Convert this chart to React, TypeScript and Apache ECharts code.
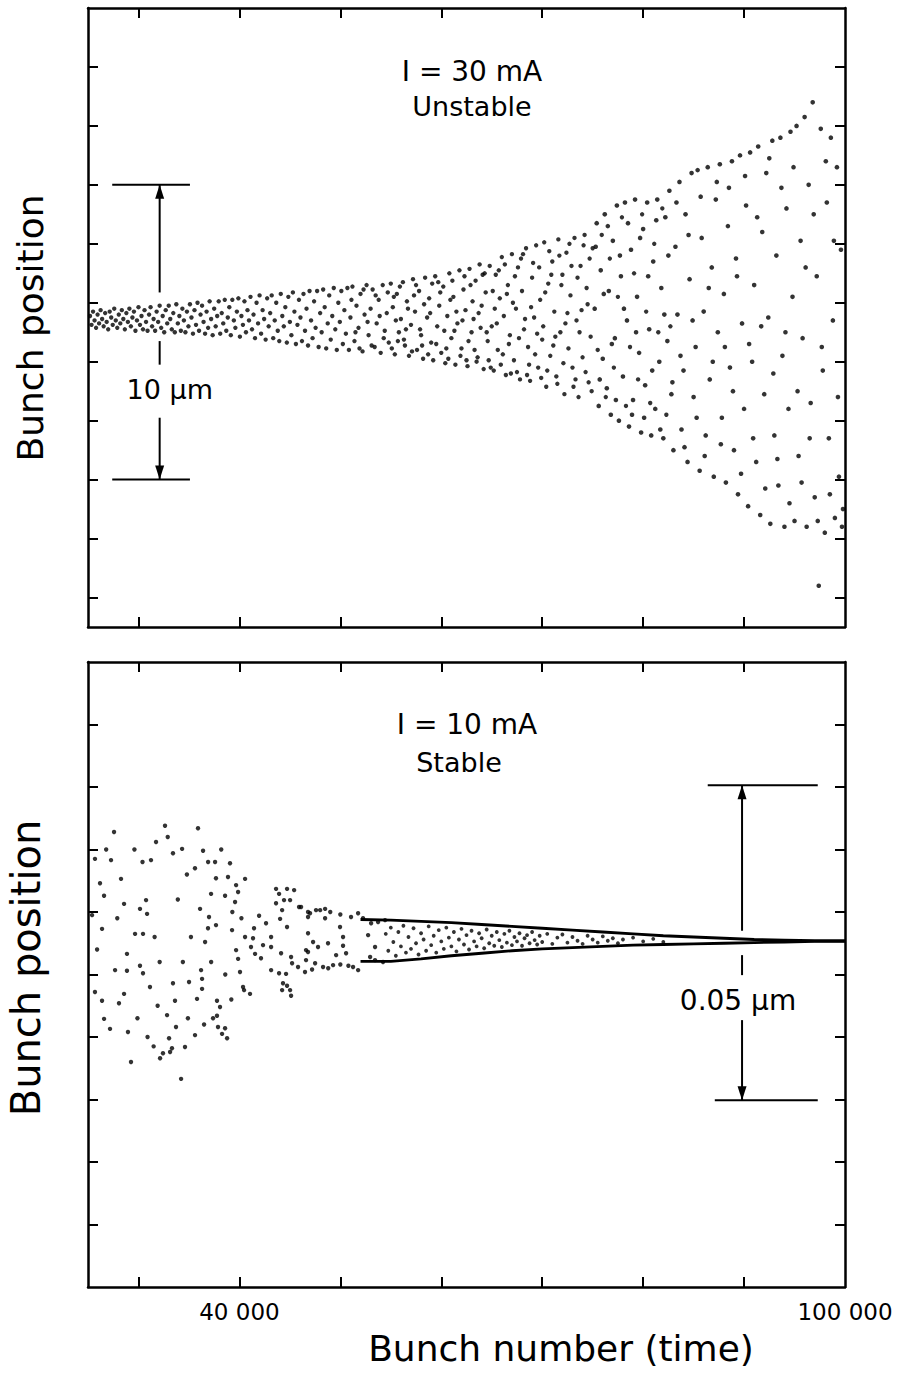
import React, { useEffect, useRef } from "react";
import * as echarts from "echarts";

// ---------- axes ----------
const X_MIN = 25000;
const X_MAX = 100000;
const xTickValues = [30000, 40000, 50000, 60000, 70000, 80000, 90000];
const xLabelValues = [40000, 100000];
const topYMin = -11;
const topYMax = 10;
const topYTicks = [-10, -8, -6, -4, -2, 0, 2, 4, 6, 8];
const bottomYMin = 0;
const bottomYMax = 0.1;
const bottomYTicks = [0.01, 0.02, 0.03, 0.04, 0.05, 0.06, 0.07, 0.08, 0.09];

// ---------- top panel (I = 30 mA, unstable): [bunch number, position µm] ----------
const topEarly: [number, number][] = [
  [25200, -0.45], [25350, -0.75], [25500, -0.3], [25650, -0.6], [25800, -0.85], [25950, -0.4], [26100, -0.7], [26250, -0.25], [26400, -0.55], [26550, -0.8], [26700, -0.35], [26850, -0.65],
  [27000, -0.9], [27150, -0.3], [27300, -0.5], [27450, -0.75], [27600, -0.2], [27750, -0.6], [27900, -0.85], [28050, -0.4], [28200, -0.7], [28350, -0.25], [28500, -0.55], [28650, -0.9], [28800, -0.35], [28950, -0.65],
  [29100, -0.2], [29250, -0.8], [29400, -0.5], [29550, -0.3], [29700, -0.95], [29850, -0.6], [30000, -0.15], [30150, -0.75], [30300, -0.45], [30450, -0.9], [30600, -0.25], [30750, -0.65], [30900, -0.95],
  [31050, -0.4], [31200, -0.15], [31350, -0.8], [31500, -0.55], [31650, -0.95], [31800, -0.3], [31950, -0.65], [32100, -0.1], [32250, -0.85], [32400, -0.45], [32550, -1.0], [32700, -0.25], [32850, -0.7],
  [33000, -0.1], [33150, -0.55], [33300, -0.9], [33450, -0.35], [33600, -1.0], [33750, -0.05], [33900, -0.7], [34050, -0.45], [34200, -0.95], [34350, -0.2], [34500, -0.6], [34650, -1.0], [34800, -0.3], [34950, -0.8],
  [35100, -0.05], [35250, -0.5], [35400, -1.05], [35550, -0.25], [35700, -0.75], [35850, 0.0], [36000, -0.95], [36150, -0.4], [36300, -0.1], [36450, -0.65], [36600, -1.05], [36750, -0.3], [36900, -0.85],
  [37050, 0.05], [37200, -0.55], [37350, -1.1], [37500, -0.2], [37650, -0.8], [37800, -0.45], [37950, 0.05], [38100, -1.05], [38250, -0.35], [38400, -0.7], [38550, 0.1], [38700, -0.95], [38850, -0.5],
  [39000, -0.15], [39150, -1.1], [39300, 0.1], [39450, -0.6], [39600, -0.85], [39750, -0.3], [39900, 0.15], [40050, -1.15], [40200, -0.45], [40350, -0.75], [40500, 0.05], [40650, -1.0], [40800, -0.25], [40950, -0.6],
  [41100, 0.2], [41250, -0.9], [41400, -0.4], [41550, -1.2], [41700, 0.0], [41850, -0.7], [42000, 0.25], [42150, -1.05], [42300, -0.25], [42450, -0.55], [42600, -1.25], [42750, 0.15], [42900, -0.8],
  [43050, -0.35], [43200, 0.25], [43350, -1.2], [43500, -0.6], [43650, 0.0], [43800, -0.95], [43950, -1.3], [44100, 0.3], [44250, -0.45], [44400, -0.8], [44550, -0.15], [44700, -1.35], [44850, 0.2], [45000, -0.65],
  [45150, -1.1], [45300, 0.35], [45450, -0.3], [45600, -1.4], [45750, -0.75], [45900, 0.1], [46050, -0.5], [46200, -1.3], [46350, 0.3], [46500, -0.95], [46650, -0.2], [46800, -1.45], [46950, 0.4],
  [47100, -0.6], [47250, -1.2], [47400, 0.05], [47550, -0.85], [47700, 0.4], [47850, -1.5], [48000, -0.35], [48150, -1.0], [48300, 0.45], [48450, -0.15], [48600, -1.55], [48750, -0.7], [48900, 0.25],
  [49050, -1.25], [49200, -0.45], [49350, 0.5], [49500, -0.9], [49650, -1.6], [49800, 0.0], [49950, -0.65], [50100, 0.4], [50250, -1.4], [50400, -0.25], [50550, -1.05], [50700, 0.5], [50850, -1.6],
];

const topMiddle: [number, number][] = [
  [51000, -0.5], [51200, 0.55], [51400, -1.3], [51600, -0.1], [51800, -0.85], [52000, 0.3], [52200, -1.65], [52400, -0.4], [52600, 0.6], [52800, -1.1], [53000, -0.2],
  [53200, 0.45], [53400, -1.5], [53600, -0.7], [53800, 0.1], [54000, -1.7], [54200, 0.6], [54400, -0.95], [54600, -0.35], [54800, -1.35], [55000, 0.65],
  [55200, -0.15], [55400, -1.75], [55600, 0.3], [55800, -1.0], [56000, -0.55], [56200, 0.7], [56400, -1.45], [56600, 0.05], [56800, -1.8], [57000, -0.75],
  [57200, 0.8], [57400, -0.3], [57600, -1.6], [57800, 0.4], [58000, -1.1], [58200, -1.9], [58400, 0.85], [58600, -0.5], [58800, 0.15], [59000, -1.35],
  [59200, -1.95], [59400, 0.9], [59600, -0.8], [59800, -0.1], [60000, -1.7], [60200, 0.55], [60400, -2.05], [60600, -0.45], [60800, 1.0], [61000, -1.2],
  [61200, 0.2], [61400, -2.1], [61600, -0.7], [61800, 1.1], [62000, -1.55], [62200, 0.45], [62400, -0.25], [62600, -2.15], [62800, 1.15], [63000, -1.0],
  [63200, -0.55], [63400, 0.75], [63600, -1.85], [63800, 1.3], [64000, -0.1], [64200, -2.25], [64400, 0.35], [64600, -1.3], [64800, 1.25], [65000, -0.8],
  [65200, -2.3], [65400, 0.95], [65600, -1.6], [65800, 0.15], [66000, 1.55], [66200, -0.45], [66400, -2.45], [66600, 0.6], [66800, -1.1], [67000, 1.65],
  [67200, -1.95], [67400, -0.2], [67600, 1.2], [67800, -2.6], [68000, 0.4], [68200, -0.9], [68400, 1.85], [68600, -1.5], [68800, -2.65], [69000, 0.85],
  [69200, -0.5], [69400, 1.95], [69600, -2.2], [69800, 0.1], [70000, -1.25], [70200, 2.05], [70400, -2.85], [70600, 0.65], [70800, -1.8], [71000, 1.4],
  [71200, -0.3], [71400, -2.5], [71600, 2.15], [71800, -1.0], [72000, 0.95], [72200, -3.1], [72400, 1.7], [72600, -1.55], [72800, 0.25], [73000, -2.2],
  [73200, 2.2], [73400, -0.6], [73600, -3.2], [73800, 1.25], [74000, -1.85], [74200, 2.3], [74400, 0.5], [74600, -2.7], [74800, -1.15], [75000, 1.85],
  [51100, 0.1], [51500, -1.0], [51900, -1.55], [52300, 0.45], [52700, -0.65], [53100, -1.45], [53500, 0.25], [53900, -0.45], [54300, -1.2], [54700, 0.35],
  [55100, -1.55], [55500, -0.6], [55900, 0.55], [56300, -1.25], [56700, -0.2], [57100, -1.65], [57500, 0.6], [57900, -0.9], [58300, -0.05], [58700, -1.75],
  [59100, 0.65], [59500, -1.4], [59900, 0.35], [60300, -0.95], [60700, -1.9], [61100, 0.75], [61500, -0.3], [61900, -1.8], [62300, 0.9], [62700, -1.3],
  [63100, 0.05], [63500, -2.0], [63900, -0.85], [64300, 1.0], [64700, -1.95], [65100, 0.4], [65500, -0.7], [65900, -2.1], [66300, 1.3], [66700, -1.4],
  [67100, 0.0], [67500, -2.35], [67900, 1.5], [68300, -0.55], [68700, -2.1], [69100, 1.35], [69500, -1.05], [69900, -2.55], [70300, 0.35], [70700, 1.75],
  [71100, -1.45], [71500, -2.75], [71900, 0.6], [72300, -0.7], [72700, 2.0], [73100, -2.85], [73500, 0.85], [73900, -0.25], [74300, -2.35], [74700, 1.5],
];

const topDense: [number, number][] = [
  [55300, 0.2], [55700, -1.3], [56500, -0.9], [57300, 0.25], [58100, -1.45], [58900, -0.35], [59700, 0.7], [60500, -1.55], [60900, 0.1], [61300, -0.95],
  [62100, -0.6], [62500, -1.95], [62900, 0.6], [63300, -1.6], [63700, -0.35], [64100, 0.95], [64500, -1.0], [64900, -2.2], [65300, -0.2], [65700, 1.1],
  [66100, -1.75], [66500, 0.3], [66900, -2.4], [67300, 0.9], [67700, -1.2], [68100, 1.65], [68500, -2.45], [68900, -0.15], [69300, -1.75], [69700, 1.2],
  [70100, -0.8], [70500, -2.3], [70900, 0.95], [71300, -1.15], [71700, 1.6], [72100, -2.05], [72500, -0.35], [72900, 1.25], [73300, -2.6], [73700, -1.0],
  [74100, 1.95], [74500, -0.05], [74900, -3.0], [75500, -1.6], [75900, 2.3], [76300, -3.2], [76700, 1.5], [77100, -2.2], [77500, 0.2], [77900, 2.9],
  [78300, -3.5], [78700, -1.5], [79100, 1.0], [79500, -2.6], [79900, 3.0], [80300, -0.3], [80700, -3.4], [81100, 2.0], [81500, -1.0], [81900, 3.2],
  [82300, -3.8], [82700, -0.8],
];

const topLate: [number, number][] = [
  [75200, -0.2], [75400, 2.7], [75600, -3.5], [75800, 1.1], [76000, -1.9], [76200, 3.0], [76400, -2.9], [76600, 0.4], [76800, -3.8], [77000, 2.1],
  [77200, -1.2], [77400, 3.3], [77600, -4.0], [77800, 0.9], [78000, -2.5], [78200, 3.4], [78400, -0.6], [78600, -4.2], [78800, 1.8], [79000, -3.3],
  [79200, 3.5], [79400, 0.2], [79600, -1.7], [79800, -4.4], [80000, 2.5], [80200, -2.8], [80400, 3.4], [80600, -0.9], [80800, -4.5], [81000, 1.4],
  [81200, -3.6], [81400, 3.5], [81600, -2.0], [81800, 0.5], [82000, -4.6], [82200, 2.9], [82400, -1.3], [82600, 3.8], [82800, -3.1], [83000, -5.0],
  [83200, 1.9], [83400, -0.4], [83600, 4.1], [83800, -4.3], [84000, -2.3], [84200, 3.0], [84400, -5.4], [84600, 0.8], [84800, 4.4], [85000, -3.2],
  [85200, -1.5], [85400, 4.5], [85600, -5.7], [85800, 2.2], [86000, -0.3], [86200, -4.5], [86400, 4.6], [86600, -2.6], [86800, 1.2], [87000, -5.9],
  [87200, 3.5], [87400, -1.0], [87600, 4.7], [87800, -3.9], [88000, 0.3], [88200, -6.1], [88400, 2.6], [88600, -2.2], [88800, 4.8], [89000, -5.0],
  [89200, 1.5], [89400, -6.5], [89600, 5.0], [89800, -0.7], [90000, -3.6], [90200, 3.3], [90400, -6.9], [90600, 5.1], [90800, -2.0], [91000, 0.6],
  [91200, -5.4], [91400, 5.3], [91600, -7.2], [91800, 2.4], [92000, -3.1], [92200, 4.4], [92400, -0.5], [92600, -7.5], [92800, 5.5], [93000, -4.5],
  [93200, 1.6], [93400, -6.2], [93600, 5.6], [93800, -1.8], [94000, -7.6], [94200, 3.2], [94400, -3.6], [94600, 5.8], [94800, 0.2], [95000, -7.4],
  [95200, 6.0], [95400, -5.2], [95600, 2.1], [95800, -1.2], [96000, 6.3], [96200, -7.6], [96400, 4.0], [96600, -3.4], [96800, 6.8], [97000, -6.6],
  [97200, 0.9], [97400, -9.6], [97600, 5.9], [97800, -2.3], [98000, -7.8], [98200, 3.4], [98400, -4.6], [98600, 5.6], [98800, -0.6], [99000, -7.3],
  [99200, 4.6], [99400, -5.9], [99600, 1.8], [99800, -7.0],
  [75300, 1.9], [75700, -2.6], [76100, 0.3], [76500, 2.6], [76900, -1.4], [77300, -3.3], [77700, 1.6], [78100, -0.2], [78500, 2.7], [78900, -3.8],
  [79300, -1.0], [79700, 2.2], [80100, -3.9], [80500, 0.9], [80900, -2.3], [81300, 2.8], [81700, -4.3], [82100, -0.4], [82500, 1.6], [82900, -2.7],
  [83300, 3.4], [83700, -1.8], [84100, -4.9], [84500, 2.3], [84900, -0.6], [85300, -3.9], [85700, 3.6], [86100, -5.2], [86500, 0.5], [86900, -2.0],
  [87300, 4.1], [87700, -4.8], [88100, -1.5], [88500, 3.9], [88900, -3.0], [89300, 0.9], [89700, -5.8], [90100, 4.3], [90500, -1.4], [90900, -4.6],
  [91300, 2.9], [91700, -0.8], [92100, -6.3], [92500, 4.9], [92900, -2.4], [93300, -5.3], [93700, 3.9], [94100, -1.0], [94500, -6.8], [94900, 4.6],
  [95300, -3.0], [95700, -6.1], [96100, 1.2], [96500, -4.6], [96900, 3.0], [97300, -7.4], [97700, -1.5], [98100, 4.8], [98500, -6.5], [98900, 2.1],
  [99300, -3.2], [99700, -7.6],
];

// ---------- bottom panel (I = 10 mA, stable): [bunch number, position µm] ----------
const bottomEarly: [number, number][] = [
  [27580, 0.0728], [25690, 0.0685], [27280, 0.0683], [28270, 0.0653], [26190, 0.0646],
  [26590, 0.0626], [28570, 0.0613], [26390, 0.0573], [28860, 0.0533], [27680, 0.0507],
  [28860, 0.0506], [30150, 0.0514], [30450, 0.0502], [31140, 0.048], [25690, 0.0472],
  [28570, 0.0469], [26390, 0.0458], [28070, 0.0454], [26590, 0.0429], [27180, 0.0413],
  [28960, 0.0408], [29260, 0.036], [32630, 0.0738], [31740, 0.0712], [31240, 0.0683],
  [33420, 0.0694], [34320, 0.0701], [35900, 0.0734], [36400, 0.0698], [35600, 0.067],
  [30750, 0.0619], [30150, 0.0605], [30850, 0.0597], [29660, 0.0565], [30450, 0.0565],
  [36100, 0.0605], [36990, 0.0592], [36600, 0.0552], [33620, 0.0458], [35800, 0.0461],
  [35010, 0.0488], [36300, 0.0493], [33420, 0.0486], [32830, 0.0435], [33720, 0.0416],
  [35600, 0.0403], [33030, 0.0398], [33320, 0.0382], [32430, 0.0374], [33130, 0.0376],
  [32140, 0.0366], [34610, 0.0384], [34220, 0.0333], [37590, 0.068], [39070, 0.0678],
  [38870, 0.0656], [39670, 0.0643], [39870, 0.0632], [40560, 0.0653], [38580, 0.0626],
  [37190, 0.0629], [39570, 0.0616], [37680, 0.0579], [39270, 0.0571], [36890, 0.0574],
  [37680, 0.0654], [39670, 0.0539], [39870, 0.0525], [40060, 0.0504], [40360, 0.048],
  [40460, 0.0475], [41050, 0.0469], [37780, 0.0458], [38080, 0.0448], [37780, 0.0434],
  [37390, 0.043], [37880, 0.0416], [38580, 0.0414], [38280, 0.0405], [38780, 0.0398],
  [36200, 0.0507], [36300, 0.0477],
  [25400, 0.0595], [25900, 0.054], [26800, 0.07], [27900, 0.059], [29600, 0.07], [30400, 0.068],
  [31600, 0.056], [31900, 0.045], [32900, 0.072], [33900, 0.062], [34800, 0.066], [35200, 0.056],
  [34400, 0.052], [32100, 0.052], [29900, 0.043], [30900, 0.04], [31500, 0.0385], [34900, 0.043],
  [36900, 0.068], [38200, 0.07], [39300, 0.06], [40200, 0.059], [37200, 0.052], [38600, 0.05],
  [39200, 0.046], [36500, 0.042],
];

const bottomMiddle: [number, number][] = [
  [43630, 0.0637], [44720, 0.0637], [45420, 0.0635], [43930, 0.0629], [44420, 0.0619],
  [45020, 0.0619], [43630, 0.0614], [44230, 0.0603], [45910, 0.0608], [46800, 0.0592],
  [44030, 0.0589], [44720, 0.0576], [42640, 0.0582], [41450, 0.0574], [41950, 0.0594],
  [43140, 0.056], [41350, 0.0558], [42340, 0.0547], [41550, 0.0533], [42140, 0.0526],
  [43140, 0.0544], [44130, 0.0534], [45120, 0.0528], [46600, 0.0539], [46600, 0.0523],
  [45810, 0.0512], [45220, 0.0518], [43930, 0.0502], [44620, 0.0501], [43140, 0.0507],
  [44320, 0.0486], [44720, 0.0482], [44230, 0.0475], [45020, 0.0475], [45120, 0.0466],
  [41150, 0.0544], [40560, 0.056],
  [46110, 0.0608], [46800, 0.06], [47590, 0.0603], [48490, 0.0605], [48490, 0.059],
  [46800, 0.0566], [47300, 0.0552], [48780, 0.055], [46800, 0.0536], [47790, 0.0544],
  [46500, 0.0504], [47500, 0.0518], [48290, 0.0512], [49280, 0.0515], [49580, 0.0531],
  [50570, 0.0534], [51260, 0.0512], [51760, 0.0507], [49970, 0.0576], [50270, 0.056],
  [51060, 0.0592], [51760, 0.0598], [52250, 0.059], [53050, 0.0582], [53740, 0.0584],
  [54430, 0.0587], [52750, 0.0563], [53440, 0.0544], [52950, 0.0528], [53440, 0.0523],
  [54230, 0.052], [50270, 0.0546], [47000, 0.0598], [48000, 0.0603], [49000, 0.06],
  [50000, 0.0596], [47200, 0.0508], [48800, 0.051], [50000, 0.0516], [50800, 0.0514],
];

const bottomBand: [number, number][] = [
  [54500, 0.0565], [54750, 0.0538], [55000, 0.0575], [55250, 0.0552], [55500, 0.053], [55750, 0.0568], [56000, 0.0545], [56250, 0.0578],
  [56500, 0.0535], [56750, 0.056], [57000, 0.0541], [57250, 0.0574], [57500, 0.055], [57750, 0.0532], [58000, 0.0566], [58250, 0.0556],
  [58500, 0.0538], [58750, 0.0577], [59000, 0.0547], [59250, 0.0562], [59500, 0.0535], [59750, 0.0571], [60000, 0.0553], [60250, 0.0541],
  [60500, 0.0575], [60750, 0.0559], [61000, 0.0545], [61250, 0.0568], [61500, 0.0537], [61750, 0.0556], [62000, 0.0573], [62250, 0.0548],
  [62500, 0.0563], [62750, 0.054], [63000, 0.057], [63250, 0.0553], [63500, 0.0545], [63750, 0.0566], [64000, 0.0558], [64250, 0.0542],
  [64500, 0.0572], [64750, 0.055], [65000, 0.0562], [65250, 0.0546], [65500, 0.0568], [65750, 0.0555], [66000, 0.0544], [66250, 0.0565],
  [66500, 0.0551], [66750, 0.057], [67000, 0.0547], [67250, 0.056], [67500, 0.0553], [67750, 0.0566], [68000, 0.0546], [68250, 0.0558],
  [68500, 0.0563], [68750, 0.055], [69000, 0.0568], [69250, 0.0555], [69500, 0.0548], [69750, 0.0562], [70000, 0.0552], [70500, 0.0565],
  [71000, 0.0549], [71500, 0.0559], [72000, 0.0564], [72500, 0.0551], [73000, 0.056], [73500, 0.0554], [74000, 0.0549], [74500, 0.0562],
  [75000, 0.0556], [75500, 0.0551], [76000, 0.0561], [76500, 0.0554], [77000, 0.0558], [77500, 0.055], [78000, 0.0556], [79000, 0.0559],
  [80000, 0.0553], [81000, 0.0557], [82000, 0.0552],
];

const bottomEdgeX = [52000, 55000, 58000, 61000, 64000, 67000, 70000, 73000, 76000, 79000, 82000, 85000, 88000, 91000, 94000, 97000, 100000];
const bottomUpper = [0.0588, 0.0587, 0.0585, 0.0583, 0.058, 0.0577, 0.0574, 0.0571, 0.0568, 0.0565, 0.0562, 0.056, 0.0558, 0.0556, 0.0555, 0.0554, 0.0554];
const bottomLower = [0.0521, 0.0521, 0.0525, 0.053, 0.0534, 0.0538, 0.0541, 0.0543, 0.0545, 0.0547, 0.0548, 0.0549, 0.055, 0.0551, 0.0552, 0.0553, 0.0553];

// ---------- scale markers ----------
const topMarker = { x1: 27400, x2: 35100, xArrow: 32100, yHigh: 4, yLow: -6, label: "10 µm", labelX: 33100, labelY: -2.95 };
const topMarkerSegments = [[4, 0.35], [-1.3, -2.1], [-3.9, -6]];
const bottomMarker = { x1High: 86400, x1Low: 87100, x2: 97300, xArrow: 89800, yHigh: 0.0803, yLow: 0.0299, label: "0.05 µm", labelX: 89400, labelY: 0.0458 };
const bottomMarkerSegments = [[0.0803, 0.057], [0.0531, 0.0499], [0.0427, 0.0299]];

const FONT = '"DejaVu Sans", "Liberation Sans", Arial, sans-serif';

const fmtThousands = (v: number) => String(Math.round(v)).replace(/\B(?=(\d{3})+(?!\d))/g, " ");

function xAxisCfg(gridIndex: number, position: string, labels: boolean) {
  return {
    type: "value",
    gridIndex,
    position,
    min: X_MIN,
    max: X_MAX,
    axisLine: { show: true, onZero: false, lineStyle: { color: "#000", width: 2.5 } },
    axisTick: { show: true, inside: true, length: 10, customValues: xTickValues, lineStyle: { color: "#000", width: 2 } },
    axisLabel: labels
      ? { show: true, customValues: xLabelValues, formatter: fmtThousands, color: "#000", fontSize: 23, fontFamily: FONT, margin: 13 }
      : { show: false },
    splitLine: { show: false },
  };
}

function yAxisCfg(gridIndex: number, position: string, min: number, max: number, ticks: number[]) {
  return {
    type: "value",
    gridIndex,
    position,
    min,
    max,
    axisLine: { show: true, onZero: false, lineStyle: { color: "#000", width: 2.5 } },
    axisTick: { show: true, inside: true, length: 10, customValues: ticks, lineStyle: { color: "#000", width: 2 } },
    axisLabel: { show: false },
    splitLine: { show: false },
  };
}

export default function App() {
  const ref = useRef<HTMLDivElement>(null);

  useEffect(() => {
    if (!ref.current) return;
    const chart = echarts.init(ref.current, null, { renderer: "svg" });
    const dots = (xi: number, yi: number, data: [number, number][], size: number) => ({
      type: "scatter",
      xAxisIndex: xi,
      yAxisIndex: yi,
      symbol: "circle",
      symbolSize: size,
      itemStyle: { color: "#000" },
      data,
      silent: true,
    });
    const option: any = {
      animation: false,
      backgroundColor: "#fff",
      grid: [
        { left: 88, top: 8, width: 757, height: 619 },
        { left: 88, top: 662, width: 757, height: 625 },
      ],
      xAxis: [
        xAxisCfg(0, "bottom", false),
        xAxisCfg(0, "top", false),
        xAxisCfg(1, "bottom", true),
        xAxisCfg(1, "top", false),
      ],
      yAxis: [
        yAxisCfg(0, "left", topYMin, topYMax, topYTicks),
        yAxisCfg(0, "right", topYMin, topYMax, topYTicks),
        yAxisCfg(1, "left", bottomYMin, bottomYMax, bottomYTicks),
        yAxisCfg(1, "right", bottomYMin, bottomYMax, bottomYTicks),
      ],
      series: [
        dots(0, 0, topEarly, 4.4),
        dots(0, 0, topMiddle, 4.4),
        dots(0, 0, topDense, 4.4),
        dots(0, 0, topLate, 4.6),
        dots(2, 2, bottomEarly, 4.4),
        dots(2, 2, bottomMiddle, 4.4),
        dots(2, 2, bottomBand, 3.8),
        {
          type: "line",
          xAxisIndex: 2,
          yAxisIndex: 2,
          showSymbol: false,
          lineStyle: { color: "#000", width: 2.8 },
          data: bottomEdgeX.map((x, i) => [x, bottomUpper[i]]),
          silent: true,
        },
        {
          type: "line",
          xAxisIndex: 2,
          yAxisIndex: 2,
          showSymbol: false,
          lineStyle: { color: "#000", width: 2.8 },
          data: bottomEdgeX.map((x, i) => [x, bottomLower[i]]),
          silent: true,
        },
      ],
    };
    chart.setOption(option);

    const P = (panel: number, x: number, y: number) =>
      chart.convertToPixel(panel === 0 ? { xAxisIndex: 0, yAxisIndex: 0 } : { xAxisIndex: 2, yAxisIndex: 2 }, [x, y]) as number[];

    const lineEl = (a: number[], b: number[], w = 2) => ({
      type: "line",
      shape: { x1: a[0], y1: a[1], x2: b[0], y2: b[1] },
      style: { stroke: "#000", lineWidth: w },
      silent: true,
    });
    const arrowHead = (tip: number[], dir: number) => ({
      type: "polygon",
      shape: { points: [tip, [tip[0] - 4.5, tip[1] + dir * 14], [tip[0] + 4.5, tip[1] + dir * 14]] },
      style: { fill: "#000" },
      silent: true,
    });
    const textEl = (x: number, y: number, text: string, size: number, rotation = 0) => ({
      type: "text",
      x,
      y,
      rotation,
      silent: true,
      style: {
        text,
        fill: "#000",
        font: `${size}px ${FONT}`,
        align: "center",
        verticalAlign: "middle",
        textAlign: "center",
        textVerticalAlign: "middle",
      },
    });

    const els: any[] = [];
    const tm = topMarker;
    els.push(lineEl(P(0, tm.x1, tm.yHigh), P(0, tm.x2, tm.yHigh)));
    els.push(lineEl(P(0, tm.x1, tm.yLow), P(0, tm.x2, tm.yLow)));
    topMarkerSegments.forEach(([a, b]) => els.push(lineEl(P(0, tm.xArrow, a), P(0, tm.xArrow, b))));
    els.push(arrowHead(P(0, tm.xArrow, tm.yHigh), 1));
    els.push(arrowHead(P(0, tm.xArrow, tm.yLow), -1));
    const tl = P(0, tm.labelX, tm.labelY);
    els.push(textEl(tl[0], tl[1], tm.label, 27));

    const bm = bottomMarker;
    els.push(lineEl(P(1, bm.x1High, bm.yHigh), P(1, bm.x2, bm.yHigh)));
    els.push(lineEl(P(1, bm.x1Low, bm.yLow), P(1, bm.x2, bm.yLow)));
    bottomMarkerSegments.forEach(([a, b]) => els.push(lineEl(P(1, bm.xArrow, a), P(1, bm.xArrow, b))));
    els.push(arrowHead(P(1, bm.xArrow, bm.yHigh), 1));
    els.push(arrowHead(P(1, bm.xArrow, bm.yLow), -1));
    const bl = P(1, bm.labelX, bm.labelY);
    els.push(textEl(bl[0], bl[1], bm.label, 28));

    els.push(textEl(472, 71, "I = 30 mA", 28));
    els.push(textEl(472, 106, "Unstable", 27));
    els.push(textEl(467, 724, "I = 10 mA", 28));
    els.push(textEl(459, 762, "Stable", 27));
    els.push(textEl(561, 1348, "Bunch number (time)", 36));
    els.push(textEl(30, 328, "Bunch position", 36, Math.PI / 2));
    els.push(textEl(26, 968, "Bunch position", 40, Math.PI / 2));

    chart.setOption({ graphic: { elements: els } });

    return () => chart.dispose();
  }, []);

  return (
    <div
      ref={ref}
      style={{ position: "absolute", left: 0, top: 0, width: 911, height: 1373, background: "#fff" }}
    />
  );
}
